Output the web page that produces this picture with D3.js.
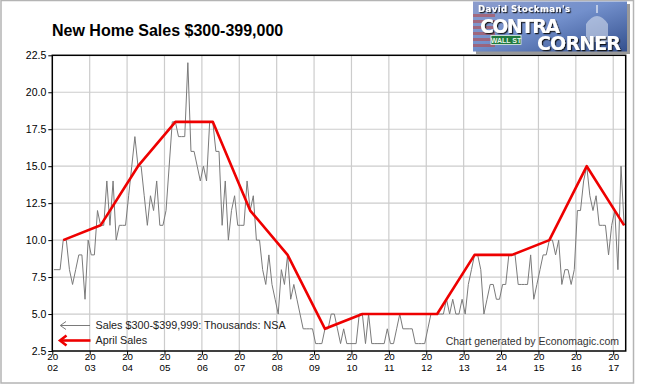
<!DOCTYPE html>
<html>
<head>
<meta charset="utf-8">
<script src="https://cdn.jsdelivr.net/npm/d3@7"></script>
<style>
  html, body { margin: 0; padding: 0; background: #fff; }
  svg { display: block; font-family: "Liberation Sans", Arial, sans-serif; }
</style>
</head>
<body>
<svg id="chart" width="650" height="385"></svg>
<script>
// ---- data ----
const title = "New Home Sales $300-399,000";
const startYear = 2002;
const years = d3.range(2002, 2018);                 // tick years
const yTicks = [2.5, 5, 7.5, 10, 12.5, 15, 17.5, 20, 22.5];
// monthly sales, thousands, NSA (Jan 2002 .. Apr 2017)
const sales = [
  8, 8, 8, 10, 10, 8, 7, 8, 9, 9, 6, 10,        // 2002
  9, 9, 12, 11, 11, 14, 11, 14, 10, 11, 11, 11,  // 2003
  13, 15, 17, 15, 15, 13, 11, 13, 12, 14, 11, 11,// 2004
  12, 15, 18, 18, 17, 17, 17, 22, 16, 16, 15, 14,// 2005
  15, 14, 18, 18, 16, 16, 11, 14, 10, 12, 13, 11,// 2006
  11, 11, 14, 12, 13, 10, 10, 8, 7, 9, 7, 6,     // 2007
  5, 8, 7, 9, 6, 7, 6, 5, 4, 4, 4, 4,            // 2008
  3, 3, 3, 4, 4, 5, 5, 4, 3, 4, 3, 3,            // 2009
  3, 3, 5, 5, 3, 5, 3, 3, 3, 3, 3, 4,            // 2010
  3, 3, 4, 5, 4, 4, 4, 4, 3, 3, 3, 3,            // 2011
  4, 5, 5, 5, 5, 5, 6, 5, 6, 5, 5, 6,            // 2012
  5, 7, 8, 9, 9, 8, 5, 6, 7, 7, 6, 6,            // 2013
  7, 7, 9, 9, 9, 7, 7, 7, 7, 9, 6, 7,            // 2014
  8, 9, 9, 10, 10, 9, 10, 7, 8, 8, 7, 8,         // 2015
  12, 12, 14, 15, 13, 12, 13, 11, 11, 11, 9, 11, // 2016
  12, 8, 15, 11                                  // 2017
];
const aprilYears = d3.range(2002, 2018);
const aprilSales = [10, 11, 15, 18, 18, 12, 9, 4, 5, 5, 5, 9, 9, 10, 15, 11];
const legendLabels = ["Sales $300-$399,999: Thousands: NSA", "April Sales"];
const creditText = "Chart generated by Economagic.com";

// ---- layout ----
const svg = d3.select("#chart");
const L = 52.3, R = 625.7, T = 55.3, B = 351;
const x = d3.scaleLinear().domain([2002, 2017 + 4 / 12]).range([L, R]);
const y = d3.scaleLinear().domain([2.5, 22.5]).range([B, T]);
const monthX = i => x(startYear + (i + 0.5) / 12);

// outer frame
svg.append("rect").attr("x", 1).attr("y", 0.5).attr("width", 632.5).attr("height", 382.5)
  .attr("fill", "#fff").attr("stroke", "#b4b4b4").attr("stroke-width", 1.5);

// title
svg.append("text").attr("x", 52).attr("y", 35.5)
  .attr("font-size", 16).attr("font-weight", "bold").attr("fill", "#000").text(title);

// logo
const defs = svg.append("defs");
const lg = defs.append("linearGradient").attr("id", "logoBg").attr("x1", 0).attr("y1", 0).attr("x2", 1).attr("y2", 1);
lg.append("stop").attr("offset", "0%").attr("stop-color", "#8c9ccc");
lg.append("stop").attr("offset", "45%").attr("stop-color", "#7390cc");
lg.append("stop").attr("offset", "100%").attr("stop-color", "#34508e");
const sh = defs.append("filter").attr("id", "txtShadow").attr("x", "-10%").attr("y", "-30%").attr("width", "130%").attr("height", "160%");
sh.append("feDropShadow").attr("dx", 1.2).attr("dy", 1.2).attr("stdDeviation", 0.6).attr("flood-color", "#111").attr("flood-opacity", 0.9);
const logo = svg.append("g");
logo.append("rect").attr("x", 476).attr("y", 4).attr("width", 154).attr("height", 50).attr("fill", "#555").attr("opacity", 0.6);
logo.append("rect").attr("x", 473).attr("y", 1.5).attr("width", 154).attr("height", 50).attr("fill", "url(#logoBg)");
// flag stripes on left
for (let k = 0; k < 6; k++) {
  logo.append("rect").attr("x", 473).attr("y", 14 + k * 6).attr("width", 22).attr("height", 3)
    .attr("fill", "#b84a4a").attr("opacity", 0.6);
}
// capitol dome hint
logo.append("path").attr("d", "M586,42 L586,24 Q597,8 608,24 L608,42 Z").attr("fill", "#dfe6f2").attr("opacity", 0.55);
logo.append("rect").attr("x", 596).attr("y", 5).attr("width", 2).attr("height", 8).attr("fill", "#dfe6f2").attr("opacity", 0.7);
// wall st sign
logo.append("rect").attr("x", 491).attr("y", 35.5).attr("width", 30).attr("height", 9).attr("fill", "#1f7a3e").attr("stroke", "#e8f0e8").attr("stroke-width", 0.8);
logo.append("text").attr("x", 506).attr("y", 43).attr("text-anchor", "middle").attr("font-size", 7).attr("font-weight", "bold").attr("fill", "#eaf5ea").text("WALL ST");
const lt = logo.append("g").attr("filter", "url(#txtShadow)").attr("fill", "#fff").attr("font-weight", "bold")
  .attr("font-family", "DejaVu Sans, Arial, sans-serif");
lt.append("text").attr("x", 478).attr("y", 11.5).attr("font-size", 8.5).attr("textLength", 92).text("David Stockman's");
lt.append("text").attr("x", 480).attr("y", 33).attr("font-size", 19).attr("textLength", 80).text("CONTRA");
lt.append("text").attr("x", 537).attr("y", 49.5).attr("font-size", 19).attr("textLength", 84).text("CORNER");

// grid
const grid = svg.append("g").attr("stroke", "#cccccc").attr("stroke-width", 1.2);
grid.selectAll("line.h").data(yTicks.slice(1, -1)).join("line")
  .attr("x1", L).attr("x2", R).attr("y1", d => y(d)).attr("y2", d => y(d));
grid.selectAll("line.v").data(years.slice(1)).join("line")
  .attr("x1", d => x(d)).attr("x2", d => x(d)).attr("y1", T).attr("y2", B);

// y axis
const yAxis = svg.append("g").attr("transform", `translate(${L},0)`)
  .call(d3.axisLeft(y).tickValues(yTicks).tickFormat(d3.format(".1f")).tickSize(4).tickPadding(2));
yAxis.select(".domain").remove();
yAxis.selectAll("line").attr("stroke", "#000");
yAxis.selectAll("text").attr("font-size", 10.5).attr("fill", "#000").attr("font-family", "Liberation Sans, Arial, sans-serif");

// x axis (two-line year labels: "20" over "02")
const xAxis = svg.append("g").attr("transform", `translate(0,${B})`)
  .call(d3.axisBottom(x).tickValues(years).tickSize(4));
xAxis.select(".domain").remove();
xAxis.selectAll(".tick text").remove();
xAxis.selectAll("line").attr("stroke", "#000");
xAxis.selectAll(".tick").each(function(d) {
  const g = d3.select(this);
  const s = String(d);
  g.append("text").attr("fill", "#000").attr("font-size", 9.8).attr("text-anchor", "middle")
    .attr("x", 0).attr("y", 9.2).text(s.slice(0, 2));
  g.append("text").attr("fill", "#000").attr("font-size", 9.8).attr("text-anchor", "middle")
    .attr("x", 0).attr("y", 20.2).text(s.slice(2));
});

// monthly grey series
svg.append("path").datum(sales)
  .attr("fill", "none").attr("stroke", "#7a7a7a").attr("stroke-width", 1)
  .attr("d", d3.line().x((d, i) => monthX(i)).y(d => y(d)));

// April red series
svg.append("path").datum(aprilSales)
  .attr("fill", "none").attr("stroke", "#ee0000").attr("stroke-width", 2.6).attr("stroke-linejoin", "round")
  .attr("d", d3.line().x((d, i) => x(aprilYears[i] + 3.5 / 12)).y(d => y(d)));

// plot frame
svg.append("rect").attr("x", L).attr("y", T).attr("width", R - L).attr("height", B - T)
  .attr("fill", "none").attr("stroke", "#000").attr("stroke-width", 1.5);

// legend
const leg = svg.append("g");
leg.append("line").attr("x1", 60.5).attr("x2", 90).attr("y1", 325.5).attr("y2", 325.5).attr("stroke", "#7a7a7a").attr("stroke-width", 1);
leg.append("polyline").attr("points", "66,321.5 60.3,325.5 66,329.5").attr("fill", "none").attr("stroke", "#7a7a7a").attr("stroke-width", 1);
leg.append("line").attr("x1", 61).attr("x2", 90.5).attr("y1", 340.5).attr("y2", 340.5).attr("stroke", "#ee0000").attr("stroke-width", 2.6);
leg.append("polyline").attr("points", "66.5,335.5 60,340.5 66.5,345.5").attr("fill", "none").attr("stroke", "#ee0000").attr("stroke-width", 2.6);
leg.append("text").attr("x", 95.5).attr("y", 329.3).attr("font-size", 10.8).attr("fill", "#222").text(legendLabels[0]);
leg.append("text").attr("x", 95.5).attr("y", 344.3).attr("font-size", 10.8).attr("fill", "#222").text(legendLabels[1]);

// credit
svg.append("text").attr("x", 619).attr("y", 345.3).attr("text-anchor", "end")
  .attr("font-size", 10.5).attr("fill", "#333").text(creditText);
</script>
</body>
</html>
